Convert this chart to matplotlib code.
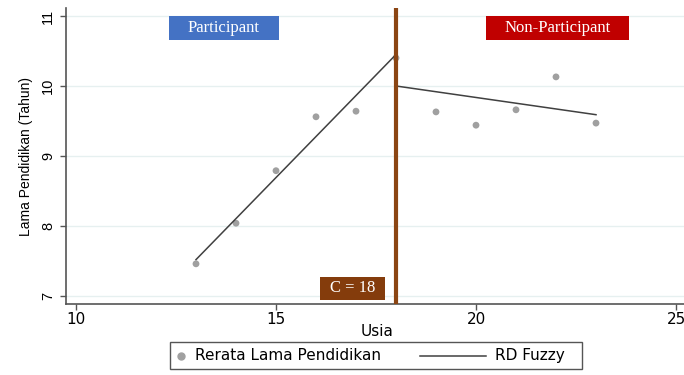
import matplotlib
matplotlib.use("Agg")
import matplotlib.pyplot as plt
from matplotlib.lines import Line2D
from matplotlib.patches import Rectangle

usia = [13, 14, 15, 16, 17, 18, 19, 20, 21, 22, 23]
rerata = [7.46, 8.04, 8.79, 9.56, 9.64, 10.40, 9.63, 9.44, 9.66, 10.13, 9.47]
fit_left_x = [13, 18]
fit_left_y = [7.52, 10.45]
fit_right_x = [18, 23]
fit_right_y = [10.0, 9.59]
cutoff = 18
xticks = [10, 15, 20, 25]
yticks = [7, 8, 9, 10, 11]
legend_labels = ['Rerata Lama Pendidikan', 'RD Fuzzy']

plt.rcParams['font.family'] = ['Liberation Sans', 'DejaVu Sans']

W, H = 684, 375
fig = plt.figure(figsize=(W/100, H/100), dpi=100)
ax = fig.add_axes([66/W, 71/H, (W-66)/W, (304-8)/H])
ax.set_xlim(9.75, 25.2)
ax.set_ylim(6.886, 11.114)

for y in yticks:
    ax.axhline(y, color='#e6f0f0', lw=1, zorder=0)

ax.scatter(usia, rerata, s=24, color='#a0a0a0', zorder=3, edgecolors='none')
ax.plot(fit_left_x, fit_left_y, color='#404040', lw=1.1, zorder=4)
ax.plot(fit_right_x, fit_right_y, color='#404040', lw=1.1, zorder=4)
ax.axvline(cutoff, color='#8B4513', lw=3, zorder=5)

ax.set_xticks(xticks)
ax.set_yticks(yticks)
ax.tick_params(axis='both', color='#555555', length=4, width=1)
ax.tick_params(axis='x', labelsize=11, pad=2)
ax.tick_params(axis='y', labelsize=10.5, pad=4)
for lab in ax.get_xticklabels():
    lab.set_family('DejaVu Sans')
for lab in ax.get_yticklabels():
    lab.set_rotation(90)
    lab.set_va('center')
for s in ['top', 'right']:
    ax.spines[s].set_visible(False)
for s in ['left', 'bottom']:
    ax.spines[s].set_color('#555555')
    ax.spines[s].set_linewidth(1.2)

ax.set_xlabel('Usia', fontsize=11, family='DejaVu Sans', va='center')
ax.xaxis.set_label_coords((377 - 66) / (W - 66), -(331 - 304) / (304 - 8))
ax.set_ylabel('Lama Pendidikan (Tahun)', fontsize=10, labelpad=6)

def px(x, y):
    return x / W, 1 - y / H

def box(x0, y0, x1, y1, text, color):
    fx, fy = px(x0, y1)
    fig.patches.append(Rectangle((fx, fy), (x1 - x0) / W, (y1 - y0) / H,
                                 transform=fig.transFigure, fc=color, ec='none', zorder=6))
    cx, cy = px((x0 + x1) / 2, (y0 + y1) / 2)
    fig.text(cx, cy, text, ha='center', va='center', color='white', fontsize=12,
             family='Liberation Serif', zorder=7)

box(169, 16, 279, 40, 'Participant', '#4472C4')
box(486, 16, 629, 40, 'Non-Participant', '#C00000')
box(320, 277, 385, 300, 'C = 18', '#843C0C')

# legend (manual layout)
lx0, ly0, lx1, ly1 = 170, 342, 582, 369
fx, fy = px(lx0, ly1)
fig.patches.append(Rectangle((fx, fy), (lx1 - lx0) / W, (ly1 - ly0) / H,
                             transform=fig.transFigure, fc='white', ec='#555555', lw=1.0))
my = (ly0 + ly1) / 2
fig.lines.append(Line2D([181 / W], [1 - my / H], transform=fig.transFigure, marker='o',
                        ls='none', color='#a0a0a0', markersize=5))
fig.text(195 / W, 1 - my / H, legend_labels[0], ha='left', va='center', fontsize=11,
         family='DejaVu Sans')
fig.lines.append(Line2D([420 / W, 486 / W], [1 - my / H, 1 - my / H], transform=fig.transFigure,
                        color='#404040', lw=1.1))
fig.text(495 / W, 1 - my / H, legend_labels[1], ha='left', va='center', fontsize=11,
         family='DejaVu Sans')

fig.savefig('out.png', dpi=100)
